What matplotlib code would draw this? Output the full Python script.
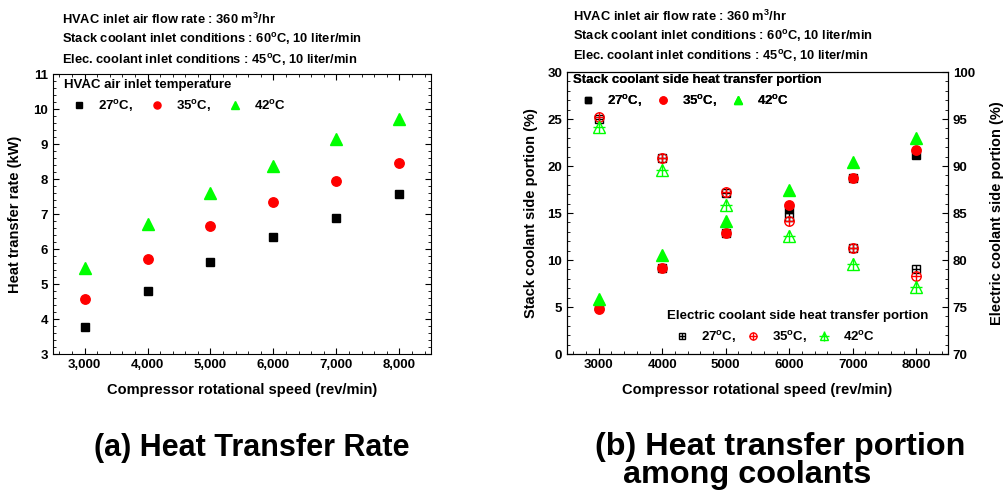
import matplotlib.pyplot as plt
from matplotlib.ticker import MultipleLocator, FuncFormatter

plt.rcParams['font.family'] = 'Liberation Sans'
plt.rcParams['font.weight'] = 'bold'
plt.rcParams['axes.labelweight'] = 'bold'
plt.rcParams['mathtext.fontset'] = 'custom'
plt.rcParams['mathtext.rm'] = 'Liberation Sans:bold'
plt.rcParams['mathtext.default'] = 'rm'

# compressor speed (rev/min)
speed = [3000, 4000, 5000, 6000, 7000, 8000]

# (a) heat transfer rate (kW) for HVAC air inlet temperatures
heat_27 = [3.78, 4.80, 5.63, 6.34, 6.89, 7.58]
heat_35 = [4.57, 5.71, 6.65, 7.33, 7.93, 8.46]
heat_42 = [5.45, 6.71, 7.61, 8.38, 9.15, 9.72]

# (b) stack coolant side portion (%)
stack_27 = [5.1, 9.1, 12.9, 15.4, 18.7, 21.15]
stack_35 = [4.8, 9.1, 12.85, 15.85, 18.7, 21.7]
stack_42 = [5.87, 10.5, 14.2, 17.4, 20.4, 23.0]

# (b) electric coolant side portion (%)
elec_27 = [94.95, 90.87, 87.15, 84.6, 81.25, 79.0]
elec_35 = [95.2, 90.9, 87.2, 84.15, 81.3, 78.3]
elec_42 = [94.2, 89.6, 85.85, 82.55, 79.55, 77.1]

temps = ["27$^o$C,", "35$^o$C,", "42$^o$C"]
header = ["HVAC inlet air flow rate : 360 m$^3$/hr",
          "Stack coolant inlet conditions : 60$^o$C, 10 liter/min",
          "Elec. coolant inlet conditions : 45$^o$C, 10 liter/min"]

W, H = 1006, 495
fs = 9.5
lfs = 10.5
fig = plt.figure(figsize=(W / 100, H / 100), dpi=100)
ax1 = fig.add_axes([0.0527, 0.2848, 0.3757, 0.5657])
ax2 = fig.add_axes([0.5636, 0.2848, 0.3787, 0.5697])
ax3 = ax2.twinx()

green = "#00ff00"


def add_legend(ax, handles, title, x, y, colsp):
    # legend anchored by the top-left corner of its title (figure pixels)
    leg = ax.legend(handles, temps, loc="upper left", ncol=3, frameon=False,
                    bbox_to_anchor=(x / W, 1 - y / H), bbox_transform=fig.transFigure,
                    title=title, alignment="left", fontsize=fs,
                    title_fontproperties={"weight": "bold", "size": fs},
                    handlelength=2.2, handletextpad=0.34, columnspacing=colsp,
                    markerscale=0.75, borderpad=0, borderaxespad=0, labelspacing=0.5)
    return leg


# ---- (a) heat transfer rate
h1, = ax1.plot(speed, heat_27, "s", color="black", ms=6.3, ls="none")
h2, = ax1.plot(speed, heat_35, "o", color="red", ms=6.8, ls="none")
h3, = ax1.plot(speed, heat_42, "^", color=green, ms=8, ls="none")
ax1.set_xlim(2500, 8500)
ax1.set_ylim(3, 11)
ax1.xaxis.set_major_locator(MultipleLocator(1000))
ax1.xaxis.set_minor_locator(MultipleLocator(200))
ax1.yaxis.set_major_locator(MultipleLocator(1))
ax1.yaxis.set_minor_locator(MultipleLocator(0.2))
ax1.xaxis.set_major_formatter(FuncFormatter(lambda v, p: f"{int(v):,}"))
ax1.tick_params(which="both", direction="in", top=True, right=True, labelsize=fs)
ax1.tick_params(which="major", length=4.5)
ax1.tick_params(which="minor", length=2.5)
ax1.set_xlabel("Compressor rotational speed (rev/min)", fontsize=lfs, labelpad=9)
ax1.set_ylabel("Heat transfer rate (kW)", fontsize=lfs, labelpad=8)
add_legend(ax1, [h1, h2, h3], "HVAC air inlet temperature", 64, 79, 0.72)

# ---- (b) heat transfer portion
s1, = ax2.plot(speed, stack_27, "s", color="black", ms=6.3, ls="none", zorder=3)
s2, = ax2.plot(speed, stack_35, "o", color="red", ms=6.8, ls="none", zorder=3)
s3, = ax2.plot(speed, stack_42, "^", color=green, ms=8, ls="none", zorder=3)

e1a, = ax3.plot(speed, elec_27, "s", mfc="none", mec="black", ms=6.3, mew=1, ls="none")
e1b, = ax3.plot(speed, elec_27, "+", color="black", ms=6.3, mew=1, ls="none")
e2a, = ax3.plot(speed, elec_35, "o", mfc="none", mec="red", ms=6.8, mew=1, ls="none")
e2b, = ax3.plot(speed, elec_35, "+", color="red", ms=6.8, mew=1, ls="none")
e3a, = ax3.plot(speed, elec_42, "^", mfc="none", mec=green, ms=8, mew=1, ls="none")
e3b, = ax3.plot(speed, elec_42, "+", color=green, ms=9, mew=1, ls="none")

ax2.set_xlim(2500, 8500)
ax2.set_ylim(0, 30)
ax3.set_ylim(70, 100)
ax2.xaxis.set_major_locator(MultipleLocator(1000))
ax2.xaxis.set_minor_locator(MultipleLocator(200))
ax2.yaxis.set_major_locator(MultipleLocator(5))
ax2.yaxis.set_minor_locator(MultipleLocator(1))
ax3.yaxis.set_major_locator(MultipleLocator(5))
ax3.yaxis.set_minor_locator(MultipleLocator(1))
for a in (ax2, ax3):
    a.tick_params(which="both", direction="in", labelsize=fs)
    a.tick_params(which="major", length=4.5)
    a.tick_params(which="minor", length=2.5)
ax2.set_xlabel("Compressor rotational speed (rev/min)", fontsize=lfs, labelpad=9)
ax2.set_ylabel("Stack coolant side portion (%)", fontsize=lfs, labelpad=7)
ax3.set_ylabel("Electric coolant side portion (%)", fontsize=lfs, labelpad=11)

leg_stack = add_legend(ax2, [s1, s2, s3], "Stack coolant side heat transfer portion",
                       573, 74, 0.49)
ax2.add_artist(leg_stack)
add_legend(ax3, [(e1a, e1b), (e2a, e2b), (e3a, e3b)],
           "Electric coolant side heat transfer portion", 667, 310, 0.19)

# ---- header notes
for i, t in enumerate(header):
    fig.text(62 / W, 1 - (19 + 20.5 * i) / H, t, fontsize=9.3, va="center")
    fig.text(573 / W, 1 - (16 + 20 * i) / H, t, fontsize=9.3, va="center")

# ---- captions
fig.text(252 / W, 1 - 456 / H, "(a) Heat Transfer Rate", fontsize=22,
         ha="center", va="baseline")
fig.text(595 / W, 1 - 455 / H, "(b) Heat transfer portion", fontsize=23.3,
         ha="left", va="baseline")
fig.text(623 / W, 1 - 483 / H, "among coolants", fontsize=23.3,
         ha="left", va="baseline")

fig.savefig("out.png", dpi=100)
